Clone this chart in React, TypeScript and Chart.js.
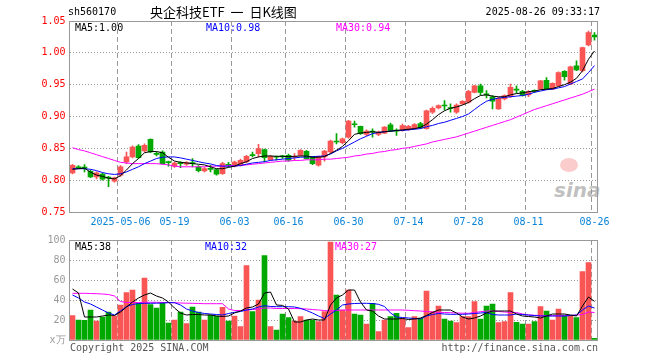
import React, { useEffect, useRef } from 'react';
import { Chart, registerables } from 'chart.js';

Chart.register(...registerables);

const dates = [
  '04-21','04-22','04-23','04-24','04-25','04-28','04-29','04-30','05-06','05-07',
  '05-08','05-09','05-12','05-13','05-14','05-15','05-16','05-19','05-20','05-21',
  '05-22','05-23','05-26','05-27','05-28','05-29','05-30','06-03','06-04','06-05',
  '06-06','06-09','06-10','06-11','06-12','06-13','06-16','06-17','06-18','06-19',
  '06-20','06-23','06-24','06-25','06-26','06-27','06-30','07-01','07-02','07-03',
  '07-04','07-07','07-08','07-09','07-10','07-11','07-14','07-15','07-16','07-17',
  '07-18','07-21','07-22','07-23','07-24','07-25','07-28','07-29','07-30','07-31',
  '08-01','08-04','08-05','08-06','08-07','08-08','08-11','08-12','08-13','08-14',
  '08-15','08-18','08-19','08-20','08-21','08-22','08-25','08-26',
];

const tickDates = ['05-06', '05-19', '06-03', '06-16', '06-30', '07-14', '07-28', '08-11', '08-26'];
const tickLabels = ['2025-05-06', '05-19', '06-03', '06-16', '06-30', '07-14', '07-28', '08-11', '08-26'];

const opens = [
  0.8115, 0.821, 0.820, 0.814, 0.8052, 0.8094, 0.805, 0.7984, 0.8078, 0.8286,
  0.8365, 0.8536, 0.8458, 0.864, 0.842, 0.8443, 0.828, 0.822, 0.827, 0.825,
  0.827, 0.8208, 0.8146, 0.818, 0.8167, 0.8104, 0.825, 0.8219, 0.8234, 0.8286,
  0.8395, 0.8417, 0.848, 0.8323, 0.837, 0.8375, 0.839, 0.836, 0.839, 0.8453,
  0.8365, 0.8234, 0.8365, 0.8443, 0.861, 0.859, 0.8677, 0.8875, 0.8844, 0.8719,
  0.876, 0.8719, 0.874, 0.887, 0.878, 0.878, 0.8792, 0.8807, 0.889, 0.881,
  0.9068, 0.9135, 0.9175, 0.9135, 0.9068, 0.9198, 0.9224, 0.938, 0.948, 0.9355,
  0.931, 0.912, 0.9276, 0.9313, 0.9425, 0.9396, 0.934, 0.940, 0.943, 0.957,
  0.943, 0.948, 0.9708, 0.951, 0.9797, 0.972, 1.0125, 1.028,
];
const highs = [
  0.825, 0.823, 0.8245, 0.816, 0.813, 0.811, 0.806, 0.805, 0.823, 0.8443,
  0.854, 0.856, 0.857, 0.865, 0.8443, 0.846, 0.830, 0.8286, 0.829, 0.829,
  0.834, 0.823, 0.8198, 0.8234, 0.818, 0.828, 0.828, 0.830, 0.833, 0.839,
  0.8443, 0.8563, 0.849, 0.839, 0.838, 0.839, 0.841, 0.8417, 0.848, 0.847,
  0.837, 0.838, 0.847, 0.863, 0.873, 0.866, 0.894, 0.8927, 0.885, 0.879,
  0.8807, 0.877, 0.884, 0.8896, 0.8807, 0.888, 0.886, 0.889, 0.891, 0.910,
  0.915, 0.9185, 0.925, 0.9198, 0.9198, 0.925, 0.941, 0.949, 0.951, 0.9406,
  0.933, 0.930, 0.934, 0.951, 0.948, 0.941, 0.9406, 0.9417, 0.957, 0.961,
  0.953, 0.970, 0.972, 0.979, 0.9875, 1.009, 1.034, 1.0318,
];
const lows = [
  0.810, 0.818, 0.813, 0.804, 0.802, 0.800, 0.7896, 0.797, 0.806, 0.826,
  0.835, 0.834, 0.844, 0.843, 0.838, 0.825, 0.822, 0.820, 0.8198, 0.823,
  0.821, 0.813, 0.813, 0.813, 0.808, 0.809, 0.821, 0.821, 0.822, 0.827,
  0.8365, 0.8365, 0.8286, 0.831, 0.8313, 0.834, 0.830, 0.8313, 0.838, 0.833,
  0.8245, 0.822, 0.830, 0.843, 0.857, 0.857, 0.866, 0.8833, 0.872, 0.870,
  0.8677, 0.870, 0.873, 0.876, 0.8703, 0.877, 0.878, 0.880, 0.881, 0.880,
  0.905, 0.912, 0.9104, 0.9068, 0.905, 0.919, 0.921, 0.937, 0.934, 0.929,
  0.912, 0.911, 0.926, 0.930, 0.9365, 0.932, 0.9313, 0.938, 0.942, 0.942,
  0.942, 0.947, 0.957, 0.950, 0.972, 0.970, 1.011, 1.0198,
];
const closes = [
  0.8234, 0.819, 0.819, 0.805, 0.8115, 0.8016, 0.803, 0.8036, 0.8208, 0.8365,
  0.852, 0.8354, 0.8547, 0.8443, 0.8406, 0.826, 0.8275, 0.827, 0.826, 0.8276,
  0.826, 0.815, 0.8182, 0.817, 0.8094, 0.826, 0.823, 0.8286, 0.8313, 0.8375,
  0.8385, 0.8495, 0.8354, 0.8375, 0.836, 0.8365, 0.8313, 0.837, 0.8469, 0.8339,
  0.826, 0.8365, 0.8458, 0.8615, 0.860, 0.8651, 0.8927, 0.887, 0.873, 0.877,
  0.8755, 0.8755, 0.8833, 0.877, 0.877, 0.8859, 0.8844, 0.8875, 0.882, 0.909,
  0.913, 0.917, 0.9165, 0.9125, 0.918, 0.924, 0.9396, 0.948, 0.938, 0.934,
  0.924, 0.9286, 0.933, 0.946, 0.9415, 0.933, 0.939, 0.9395, 0.956, 0.943,
  0.952, 0.969, 0.9625, 0.978, 0.973, 1.0083, 1.0318, 1.025,
];

const ma5 = [
  0.817, 0.818, 0.819, 0.8125, 0.808, 0.806, 0.803, 0.802, 0.807, 0.816,
  0.826, 0.834, 0.843, 0.845, 0.845, 0.843, 0.836, 0.830, 0.828, 0.827,
  0.826, 0.825, 0.824, 0.821, 0.818, 0.818, 0.820, 0.822, 0.826, 0.829,
  0.834, 0.8365, 0.838, 0.838, 0.8375, 0.8375, 0.837, 0.8375, 0.838, 0.838,
  0.836, 0.836, 0.837, 0.842, 0.847, 0.853, 0.862, 0.872, 0.874, 0.875,
  0.876, 0.875, 0.876, 0.877, 0.878, 0.879, 0.880, 0.881, 0.883, 0.888,
  0.895, 0.903, 0.909, 0.913, 0.915, 0.918, 0.922, 0.928, 0.933, 0.934,
  0.932, 0.931, 0.931, 0.934, 0.936, 0.937, 0.939, 0.940, 0.942, 0.943,
  0.944, 0.947, 0.950, 0.954, 0.960, 0.972, 0.990, 1.003,
];
const ma10 = [
  0.818, 0.818, 0.818, 0.817, 0.815, 0.812, 0.810, 0.809, 0.810, 0.813,
  0.817, 0.821, 0.826, 0.830, 0.834, 0.836, 0.8365, 0.8365, 0.835, 0.833,
  0.831, 0.829, 0.827, 0.8255, 0.823, 0.822, 0.822, 0.822, 0.823, 0.825,
  0.827, 0.828, 0.829, 0.831, 0.832, 0.833, 0.834, 0.835, 0.836, 0.8365,
  0.837, 0.8375, 0.838, 0.841, 0.846, 0.850, 0.855, 0.860, 0.865, 0.869,
  0.873, 0.875, 0.876, 0.877, 0.878, 0.878, 0.879, 0.880, 0.881, 0.884,
  0.886, 0.889, 0.891, 0.894, 0.897, 0.900, 0.904, 0.911, 0.918, 0.924,
  0.927, 0.929, 0.930, 0.931, 0.932, 0.933, 0.935, 0.938, 0.940, 0.942,
  0.943, 0.945, 0.947, 0.951, 0.955, 0.959, 0.969, 0.980,
];
const ma30 = [
  0.851, 0.848, 0.846, 0.843, 0.840, 0.837, 0.834, 0.831, 0.828, 0.827,
  0.826, 0.826, 0.826, 0.826, 0.826, 0.825, 0.824, 0.822, 0.821, 0.821,
  0.821, 0.821, 0.821, 0.822, 0.822, 0.822, 0.823, 0.823, 0.823, 0.824,
  0.825, 0.826, 0.827, 0.828, 0.829, 0.830, 0.830, 0.831, 0.831, 0.832,
  0.832, 0.832, 0.833, 0.833, 0.834, 0.835, 0.836, 0.838, 0.839, 0.841,
  0.842, 0.844, 0.845, 0.847, 0.848, 0.850, 0.851, 0.853, 0.855, 0.857,
  0.860, 0.862, 0.864, 0.866, 0.868, 0.871, 0.874, 0.877, 0.880, 0.883,
  0.886, 0.889, 0.892, 0.895, 0.899, 0.903, 0.907, 0.911, 0.914, 0.917,
  0.920, 0.923, 0.926, 0.929, 0.932, 0.935, 0.939, 0.943,
];

const volumes = [
  24.3, 20, 19.7, 30, 19, 23, 28, 24, 35, 47.5,
  50, 36.7, 62, 35.5, 32, 37.5, 17, 20, 28, 16.5,
  33, 28, 20, 25, 24, 32.7, 19, 24, 13.3, 74.3,
  28.3, 40, 84.3, 13.3, 10, 26, 22.3, 19, 23.3, 20,
  20, 18.3, 28.3, 98, 45, 30, 50, 26, 25, 16,
  36.7, 8.3, 20, 23.3, 26.7, 21.7, 12.3, 23.3, 21.7, 49,
  28.3, 34, 21, 19, 17.3, 23.3, 23.3, 38.3, 21, 34,
  36, 17.3, 18.3, 47.3, 17.7, 16, 16, 18.3, 33.3, 29,
  20, 31, 25, 24.3, 22.3, 68.3, 77.3, 1.7,
];
const volMa5 = [
  51, 47, 23, 23, 23, 24, 25, 24.5, 28, 33,
  38, 42, 45, 47, 44, 42, 38, 32, 27, 25,
  25.5, 25.5, 25, 25, 24, 23.5, 24, 27, 29, 32,
  33, 36, 47, 48, 35, 34.6, 31, 18, 18, 20,
  21, 20, 20, 35, 42, 45, 50, 50, 38, 30,
  29, 24, 21, 21, 21, 21.5, 20.5, 21, 22, 24.5,
  27.5, 30, 30, 30, 27, 23, 21, 22, 24, 27,
  29, 29, 29, 29, 26, 24, 23.5, 23, 22, 24,
  26, 26, 26, 25, 24, 34, 43, 38.6,
];
const volMa10 = [
  45, 42, 38, 36, 33, 30, 27, 25, 29, 33.5,
  35.5, 36.5, 36.7, 36.7, 36.8, 37, 37.3, 37.3, 35, 31,
  29, 27.5, 26.5, 26, 25.5, 25, 26.5, 27.7, 28.5, 30,
  31, 33, 34.3, 33.5, 33.3, 33.3, 33.3, 33, 31.7, 29.5,
  27, 24, 21.5, 26, 30, 35, 36, 36.5, 36.7, 36.7,
  36.5, 35.7, 33.5, 27, 23, 22.5, 22, 21.5, 21, 24,
  25.5, 26.5, 26, 25.7, 25.7, 25.7, 26, 26.5, 27, 27.5,
  25.5, 25, 25, 25, 26, 25.5, 25, 24.5, 24, 24,
  24, 24, 24, 24.5, 25, 30, 34, 32,
];
const volMa30 = [
  46.7, 46.7, 46.7, 46.5, 46.3, 46, 45.5, 44, 38.5, 37.5,
  37.5, 37.5, 37.7, 37.7, 37.7, 37.5, 37.5, 37.3, 37, 36.8,
  36.7, 36.5, 36.3, 36.3, 36.3, 36.3, 31, 29.5, 29.5, 30,
  30.5, 31, 32, 32, 31.5, 31.5, 31.5, 31.5, 31.3, 31,
  30.5, 30, 29.5, 29, 29.5, 30, 30, 30, 30, 30,
  30, 30, 30, 30, 30, 30, 29.7, 29.3, 29, 28.5,
  28, 27.7, 27.5, 27.3, 27, 26.8, 26.7, 27.5, 28.3, 29,
  29, 28.5, 28, 27.7, 27.5, 26, 25, 24.7, 24.5, 24.3,
  24.3, 24.3, 24.3, 24.5, 25, 25.5, 28, 27.5,
];

const priceTicks = [0.75, 0.8, 0.85, 0.9, 0.95, 1.0, 1.05];
const volumeTicks = [0, 20, 40, 60, 80, 100];

const UP = '#fa5555';
const DOWN = '#00a800';
const MONO = "'DejaVu Sans Mono', monospace";

const frame = {
  id: 'frame',
  afterDraw(chart: any) {
    const { ctx, chartArea: a } = chart;
    ctx.save();
    ctx.strokeStyle = '#999';
    ctx.lineWidth = 1;
    const x0 = Math.floor(a.left) + 0.5;
    const y0 = Math.floor(a.top) + 0.5;
    const x1 = Math.floor(a.right) + 0.5;
    const y1 = Math.floor(a.bottom) + 0.5;
    ctx.strokeRect(x0, y0, x1 - x0, y1 - y0);
    ctx.restore();
  },
};

const gridIdx = new Set(tickDates.map((d) => dates.indexOf(d)));
const candleColors = opens.map((o, i) => (closes[i] >= o ? UP : DOWN));

function lineDs(data: number[], color: string) {
  return {
    type: 'line' as const,
    data,
    borderColor: color,
    borderWidth: 1,
    pointRadius: 0,
    tension: 0,
    order: 0,
  };
}

function xScale(showLabels: boolean, height: number) {
  return {
    offset: true,
    grid: {
      offset: true,
      drawTicks: false,
      color: (c: any) => (gridIdx.has(c.index) ? '#999' : 'rgba(0,0,0,0)'),
      lineWidth: 1,
    },
    border: { display: false, dash: [5, 3] },
    ticks: {
      display: showLabels,
      autoSkip: false,
      maxRotation: 0,
      minRotation: 0,
      padding: 4,
      color: '#0a84d8',
      font: { family: MONO, size: 10 },
      callback: (_v: any, i: number) => {
        const k = tickDates.indexOf(dates[i]);
        return k >= 0 ? tickLabels[k] : '';
      },
    },
    afterFit: (s: any) => {
      s.height = height;
    },
  };
}

export default function App() {
  const priceRef = useRef<HTMLCanvasElement>(null);
  const volRef = useRef<HTMLCanvasElement>(null);

  useEffect(() => {
    const bodies = opens.map((o, i) => [Math.min(o, closes[i]), Math.max(o, closes[i])]);
    const wicks = lows.map((l, i) => [l, highs[i]]);
    const price = new Chart(priceRef.current!, {
      type: 'bar',
      data: {
        labels: dates,
        datasets: [
          lineDs(ma5, '#000000'),
          lineDs(ma10, '#0000ff'),
          lineDs(ma30, '#ff00ff'),
          {
            type: 'bar',
            data: bodies as any,
            backgroundColor: candleColors,
            barThickness: 5,
            grouped: false,
            minBarLength: 1,
            order: 1,
          },
          {
            type: 'bar',
            data: wicks as any,
            backgroundColor: candleColors,
            barThickness: 1,
            grouped: false,
            order: 2,
          },
        ] as any,
      },
      options: {
        responsive: false,
        animation: false,
        events: [],
        layout: { padding: { left: 0, top: 21, right: 62.5, bottom: 0 } },
        plugins: { legend: { display: false }, tooltip: { enabled: false } },
        scales: {
          x: xScale(true, 148) as any,
          y: {
            min: 0.75,
            max: 1.05,
            afterBuildTicks: (s: any) => {
              s.ticks = priceTicks.map((v) => ({ value: v }));
            },
            grid: { drawTicks: false, color: '#999', lineWidth: 1 },
            border: { display: false, dash: [1, 2] },
            ticks: {
              padding: 4,
              color: '#ff0000',
              font: { family: MONO, size: 10 },
              callback: (v: any) => Number(v).toFixed(2),
            },
            afterFit: (s: any) => {
              s.width = 69.5;
            },
          } as any,
        },
      },
      plugins: [frame],
    });

    const vol = new Chart(volRef.current!, {
      type: 'bar',
      data: {
        labels: dates,
        datasets: [
          lineDs(volMa5, '#000000'),
          lineDs(volMa10, '#0000ff'),
          lineDs(volMa30, '#ff00ff'),
          {
            type: 'bar',
            data: volumes,
            backgroundColor: candleColors,
            barThickness: 5,
            grouped: false,
            order: 1,
          },
        ] as any,
      },
      options: {
        responsive: false,
        animation: false,
        events: [],
        layout: { padding: { left: 0, top: 240, right: 62.5, bottom: 0 } },
        plugins: { legend: { display: false }, tooltip: { enabled: false } },
        scales: {
          x: xScale(false, 20) as any,
          y: {
            min: 0,
            max: 100,
            afterBuildTicks: (s: any) => {
              s.ticks = volumeTicks.map((v) => ({ value: v }));
            },
            grid: { drawTicks: false, color: '#999', lineWidth: 1 },
            border: { display: false, dash: [1, 2] },
            ticks: {
              padding: 4,
              color: '#999',
              font: { family: MONO, size: 10 },
              callback: (v: any) => (Number(v) === 0 ? 'x万' : String(v)),
            },
            afterFit: (s: any) => {
              s.width = 69.5;
            },
          } as any,
        },
      },
      plugins: [frame],
    });

    return () => {
      price.destroy();
      vol.destroy();
    };
  }, []);

  const txt = (extra: React.CSSProperties): React.CSSProperties => ({
    position: 'absolute',
    fontFamily: MONO,
    fontSize: 10,
    lineHeight: '12px',
    whiteSpace: 'nowrap',
    ...extra,
  });

  return (
    <div
      style={{
        position: 'fixed',
        left: 0,
        top: 0,
        width: 660,
        height: 360,
        background: '#fff',
        overflow: 'hidden',
      }}
    >
      <div style={{ position: 'absolute', left: 560, top: 158, width: 18, height: 14, borderRadius: '50%', background: 'rgba(240,110,110,0.35)' }} />
      <span
        style={txt({
          left: 554,
          top: 178,
          fontFamily: "'DejaVu Sans', sans-serif",
          fontSize: 20,
          lineHeight: '24px',
          fontWeight: 'bold',
          fontStyle: 'italic',
          color: 'rgba(150,150,150,0.6)',
        })}
      >
        sina
      </span>
      <canvas ref={priceRef} width={660} height={360} style={{ position: 'absolute', left: 0, top: 0 }} />
      <canvas ref={volRef} width={660} height={360} style={{ position: 'absolute', left: 0, top: 0 }} />

      <span style={txt({ left: 68, top: 6, color: '#000' })}>sh560170</span>
      <span
        style={txt({
          left: 150,
          top: 3,
          fontFamily: "'Noto Sans CJK SC', sans-serif",
          fontSize: 13,
          lineHeight: '18px',
          wordSpacing: 3,
          color: '#000',
        })}
      >
        央企科技ETF 一 日K线图
      </span>
      <span style={txt({ right: 60, top: 6, color: '#000' })}>2025-08-26 09:33:17</span>

      <span style={txt({ left: 75, top: 22, color: '#000' })}>MA5:1.00</span>
      <span style={txt({ left: 206, top: 22, color: '#0000ff' })}>MA10:0.98</span>
      <span style={txt({ left: 336, top: 22, color: '#ff00ff' })}>MA30:0.94</span>

      <span style={txt({ left: 75, top: 241, color: '#000' })}>MA5:38</span>
      <span style={txt({ left: 205, top: 241, color: '#0000ff' })}>MA10:32</span>
      <span style={txt({ left: 335, top: 241, color: '#ff00ff' })}>MA30:27</span>

      <span style={txt({ left: 70, top: 342, color: '#555' })}>Copyright 2025 SINA.COM</span>
      <span style={txt({ right: 62, top: 342, color: '#555' })}>http://finance.sina.com.cn</span>
    </div>
  );
}
